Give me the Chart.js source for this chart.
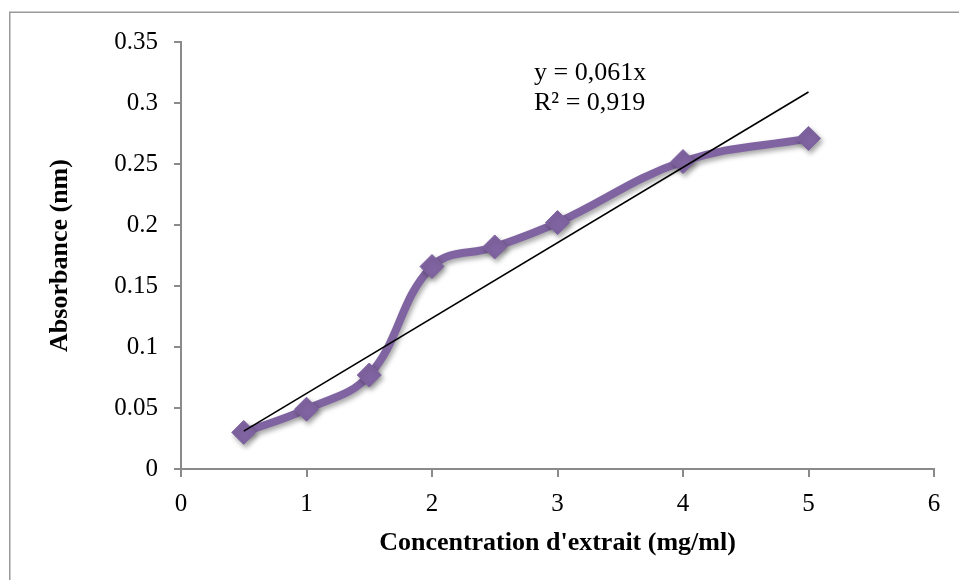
<!DOCTYPE html>
<html>
<head>
<meta charset="utf-8">
<script src="https://cdn.jsdelivr.net/npm/chart.js@4.4.1/dist/chart.umd.min.js"></script>
<style>
  html, body { margin: 0; padding: 0; background: #fff; }
  canvas { display: block; }
</style>
</head>
<body>
<canvas id="chart" width="959" height="580"></canvas>
<script>
// concentrations (mg/ml) and absorbance readings
const concentrations = [0.5, 1, 1.5, 2, 2.5, 3, 4, 5];
const absorbance = [0.030, 0.049, 0.077, 0.166, 0.182, 0.202, 0.252, 0.271];

// linear trendline ends as drawn in the picture
const trendX = [0.5, 5];
const trendY = [0.031, 0.309];

const equationLines = ["y = 0,061x", "R\u00b2 = 0,919"];

const serif = "'Liberation Serif', 'Times New Roman', serif";
const axisGray = "#8a8a8a";
const purple = "#8064A2";

const frame = {
  id: "frame",
  beforeDraw(chart) {
    const ctx = chart.ctx;
    ctx.save();
    ctx.fillStyle = "#fff";
    ctx.fillRect(0, 0, chart.width, chart.height);
    ctx.strokeStyle = "#9a9a9a";
    ctx.lineWidth = 1.5;
    ctx.strokeRect(9.75, 12.25, 1200, 1200);
    ctx.restore();
  },
  afterDraw(chart) {
    const ctx = chart.ctx;
    ctx.save();
    ctx.fillStyle = "#000";
    ctx.font = "26px " + serif;
    ctx.textBaseline = "alphabetic";
    ctx.fillText(equationLines[0], 534, 80);
    ctx.fillText(equationLines[1], 534, 110);
    ctx.restore();
  }
};

const shadow = {
  id: "shadow",
  beforeDatasetDraw(chart, args) {
    if (args.index !== 1) return;
    const ctx = chart.ctx;
    ctx.save();
    ctx.shadowColor = "rgba(0,0,0,0.35)";
    ctx.shadowBlur = 5;
    ctx.shadowOffsetX = 2;
    ctx.shadowOffsetY = 3;
  },
  afterDatasetDraw(chart, args) {
    if (args.index !== 1) return;
    chart.ctx.restore();
  }
};

const ctx = document.getElementById("chart").getContext("2d");
new Chart(ctx, {
  type: "scatter",
  data: {
    datasets: [
      {
        label: "Linéaire",
        data: trendX.map((x, i) => ({ x, y: trendY[i] })),
        showLine: true,
        borderColor: "#000",
        borderWidth: 1.6,
        pointRadius: 0,
        fill: false
      },
      {
        label: "Absorbance",
        data: concentrations.map((x, i) => ({ x, y: absorbance[i] })),
        showLine: true,
        borderColor: purple,
        borderWidth: 8,
        tension: 0.4,
        pointStyle: "rectRot",
        pointRadius: 12,
        pointBackgroundColor: purple,
        pointBorderColor: purple,
        pointBorderWidth: 1,
        fill: false
      }
    ]
  },
  options: {
    responsive: false,
    animation: false,
    devicePixelRatio: 1,
    layout: { padding: { left: 0, right: 25, top: 42, bottom: 0 } },
    plugins: {
      legend: { display: false },
      tooltip: { enabled: false }
    },
    scales: {
      x: {
        type: "linear",
        min: 0,
        max: 6,
        afterFit(scale) { scale.height = 111; },
        ticks: {
          stepSize: 1,
          color: "#000",
          padding: 12,
          font: { family: serif, size: 25 }
        },
        grid: {
          drawOnChartArea: false,
          drawTicks: true,
          tickLength: 8,
          color: axisGray,
          lineWidth: 2
        },
        border: { color: axisGray, width: 2 },
        title: {
          display: true,
          text: "Concentration d'extrait (mg/ml)",
          color: "#000",
          font: { family: serif, size: 26, weight: "bold" },
          padding: { top: 0, bottom: 21 }
        }
      },
      y: {
        min: 0,
        max: 0.35,
        afterFit(scale) { scale.width = 181; },
        ticks: {
          stepSize: 0.05,
          color: "#000",
          padding: 16,
          font: { family: serif, size: 25 },
          callback: v => String(+v.toFixed(2))
        },
        grid: {
          drawOnChartArea: false,
          drawTicks: true,
          tickLength: 7,
          color: axisGray,
          lineWidth: 2
        },
        border: { color: axisGray, width: 2 },
        title: {
          display: true,
          text: "Absorbance (nm)",
          color: "#000",
          font: { family: serif, size: 26, weight: "bold" },
          padding: { top: 45, bottom: 0 }
        }
      }
    }
  },
  plugins: [frame, shadow]
});
</script>
</body>
</html>
